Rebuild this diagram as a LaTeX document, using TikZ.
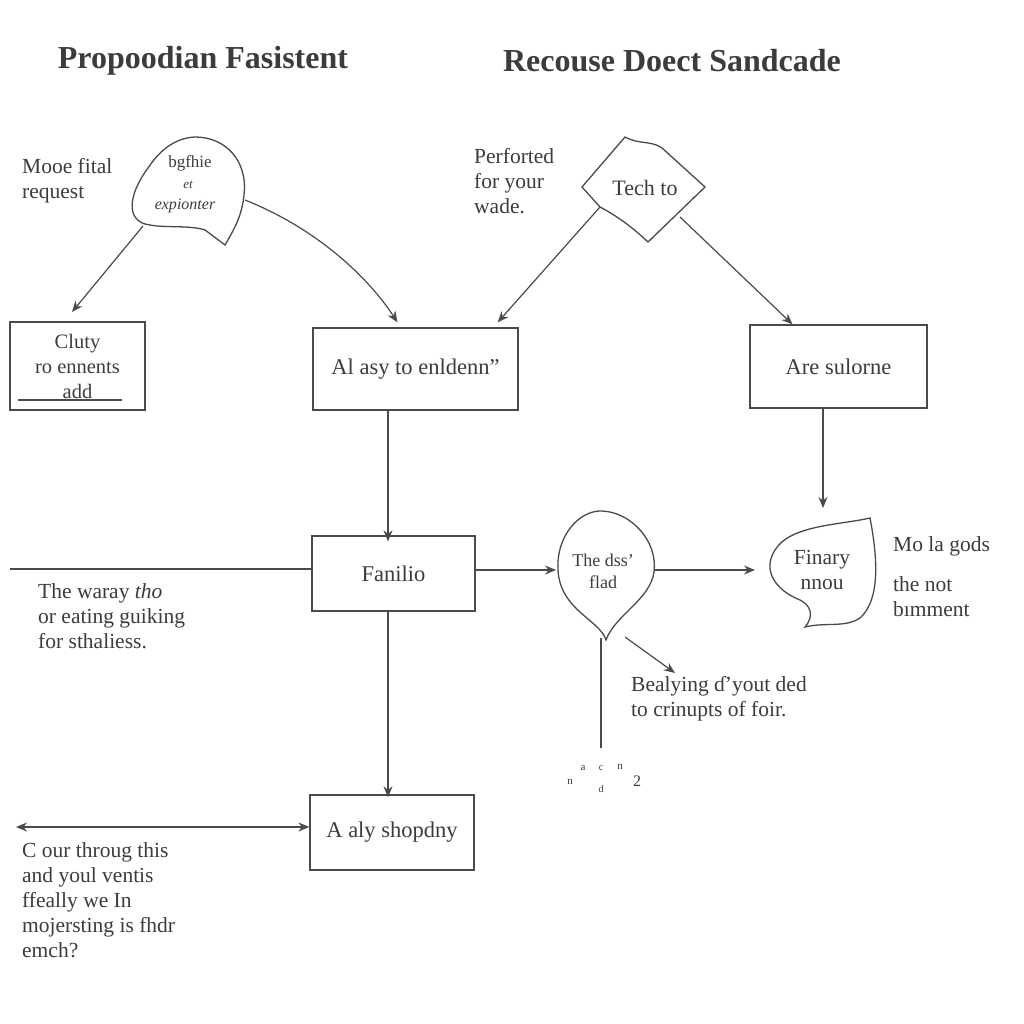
\documentclass[tikz,border=0pt]{standalone}
\usepackage{fontspec}
\setmainfont{Liberation Serif}
\usetikzlibrary{arrows.meta}
\definecolor{ink}{HTML}{4A4A4A}
\definecolor{txt}{HTML}{3C3C3C}
\tikzset{
  box/.style={draw=ink, line width=1.3pt, rectangle, inner sep=0pt, align=center, text=txt, font=\fontsize{22.5}{25}\selectfont},
  shp/.style={draw=ink, line width=1.3pt},
  lbl/.style={text=txt, align=left, font=\fontsize{21.5}{25}\selectfont, inner sep=0pt},
  ttl/.style={text=txt, font=\fontsize{32}{36}\selectfont\bfseries, inner sep=0pt},
  con/.style={draw=ink, line width=1.2pt, -{Stealth[length=11pt,width=9pt]}},
  plain/.style={draw=ink, line width=1.2pt},
}
\begin{document}
\begin{tikzpicture}[x=1pt,y=-1pt]
\useasboundingbox[fill=white] (0,0) rectangle (1024,1024);
% titles
\node[ttl] (t1) at (203,61) {Propoodian Fasistent};
\node[ttl] (t2) at (672,61) {Recouse Doect Sandcade};
% top-left
\node[lbl, anchor=west] (mooe) at (22,181) {Mooe fital\\request};
\draw[shp] (150,225) .. controls (125,222) and (128,195) .. (148,168)
  .. controls (160,150) and (175,138) .. (195,137)
  .. controls (225,137) and (248,160) .. (244,195)
  .. controls (242,215) and (235,228) .. (225,245)
  -- (205,230) .. controls (190,225) and (165,228) .. (150,225) -- cycle;
\node[text=txt, inner sep=0pt, font=\fontsize{17}{20}\selectfont] (b1a) at (190,163) {bgfhie};
\node[text=txt, inner sep=0pt, font=\fontsize{13}{14}\selectfont\itshape] (b1b) at (188,185) {et};
\node[text=txt, inner sep=0pt, font=\fontsize{16}{18}\selectfont\itshape] (b1c) at (185,206) {expionter};
\coordinate (b1sw) at (143,226);
\coordinate (b1e) at (245,200);
\node[box, minimum width=135pt, minimum height=88pt, font=\fontsize{20.5}{25}\selectfont] (cluty) at (77.5,366) {Cluty\\ro ennents\\add};
\draw[plain] (18,400) -- (122,400);
\node[box, minimum width=205pt, minimum height=82pt] (alasy) at (415.5,369) {Al asy to enldenn"};
\coordinate (clutyin) at (72,312);
\draw[con] (b1sw) -- (clutyin);
\draw[con] (b1e) .. controls (320,230) and (370,280) .. ([xshift=-18pt,yshift=5pt]alasy.north);
% top-right
\node[lbl, anchor=west] (perf) at (474,181) {Perforted\\for your\\wade.};
\draw[shp] (582,187) -- (625,137) .. controls (640,145) and (650,140) .. (662,148) -- (705,187) -- (648,242) .. controls (630,225) and (615,215) .. (600,207) -- cycle;
\node[text=txt, font=\fontsize{22}{25}\selectfont, inner sep=0pt] (tech) at (645,188) {Tech to};
\coordinate (dsw) at (600,207);
\coordinate (dse) at (680,217);
\node[box, minimum width=177pt, minimum height=83pt] (are) at (838.5,366.5) {Are sulorne};
\draw[con] (dsw) -- ([xshift=-21pt,yshift=5pt]alasy.north east);
\draw[con] (dse) -- ([xshift=-46pt]are.north);
% middle row
\node[box, minimum width=163pt, minimum height=75pt] (fan) at (393.5,573.5) {Fanilio};
\draw[con] (alasy.south -| 388,0) -- ([yshift=-6pt]fan.north -| 388,0);
\coordinate (lft) at (10,569);
\draw[plain] (lft) -- (fan.west |- lft);
\node[lbl, anchor=north west] (waray) at (38,583) {The waray {\itshape tho}\\or eating guiking\\for sthaliess.};
% blob2
\draw[shp] (606,640) .. controls (600,620) and (560,610) .. (558,570)
  .. controls (556,535) and (580,510) .. (602,511)
  .. controls (630,512) and (658,540) .. (654,572)
  .. controls (650,600) and (615,615) .. (606,640) -- cycle;
\node[text=txt, align=center, inner sep=0pt, font=\fontsize{18}{22}\selectfont] (dss) at (603,571) {The dss'\\flad};
\coordinate (b2w) at (556,570);
\coordinate (b2e) at (655,570);
\draw[con] (fan.east |- b2w) -- (b2w);
% blob3
\draw[shp] (870,518) .. controls (878,560) and (880,600) .. (860,618)
  .. controls (845,628) and (825,622) .. (805,627)
  .. controls (815,615) and (810,605) .. (800,600)
  .. controls (775,590) and (762,570) .. (775,550)
  .. controls (790,525) and (840,525) .. (870,518) -- cycle;
\node[text=txt, align=center, inner sep=0pt, font=\fontsize{21.5}{25}\selectfont] (fin) at (822,570) {Finary\\nnou};
\coordinate (b3w) at (755,570);
\coordinate (b3n) at (823,508);
\draw[con] (b2e) -- (b3w);
\draw[con] (are.south -| b3n) -- (b3n);
\node[lbl, anchor=west] (mola) at (893,546) {Mo la gods};
\node[lbl, anchor=north west] (thenot) at (893,576) {the not\\bımment};
% below blob2
\coordinate (vtop) at (601,638);
\coordinate (vbot) at (601,748);
\draw[plain] (vtop) -- (vbot);
\coordinate (dgs) at (625,637);
\coordinate (dge) at (675,673);
\draw[con] (dgs) -- (dge);
\node[lbl, anchor=north west] (beal) at (631,676) {Bealying ɗ'yout ded\\to crinupts of foir.};
\node[text=txt, font=\fontsize{11}{12}\selectfont, inner sep=0pt] (n1) at (570,782) {n};
\node[text=txt, font=\fontsize{11}{12}\selectfont, inner sep=0pt] (n2) at (583,768) {a};
\node[text=txt, font=\fontsize{10}{12}\selectfont, inner sep=0pt] (n3) at (601,768) {c};
\node[text=txt, font=\fontsize{11}{12}\selectfont, inner sep=0pt] (n4) at (620,767) {n};
\node[text=txt, font=\fontsize{10}{12}\selectfont, inner sep=0pt] (n5) at (601,789) {d};
\node[text=txt, font=\fontsize{16}{18}\selectfont, inner sep=0pt] (n6) at (637,781) {2};
% bottom
\node[box, minimum width=164pt, minimum height=75pt] (aaly) at (392,832.5) {A aly shopdny};
\draw[con] (fan.south -| 388,0) -- ([yshift=-3pt]aaly.north -| 388,0);
\coordinate (bl) at (16,827);
\draw[draw=ink, line width=1.2pt, {Stealth[length=11pt,width=9pt]}-{Stealth[length=11pt,width=9pt]}] (bl) -- (aaly.west |- bl);
\node[lbl, anchor=north west] (cour) at (22,842) {C our throug this\\and youl ventis\\ffeally we In\\mojersting is fhdr\\emch?};
\end{tikzpicture}
\end{document}
